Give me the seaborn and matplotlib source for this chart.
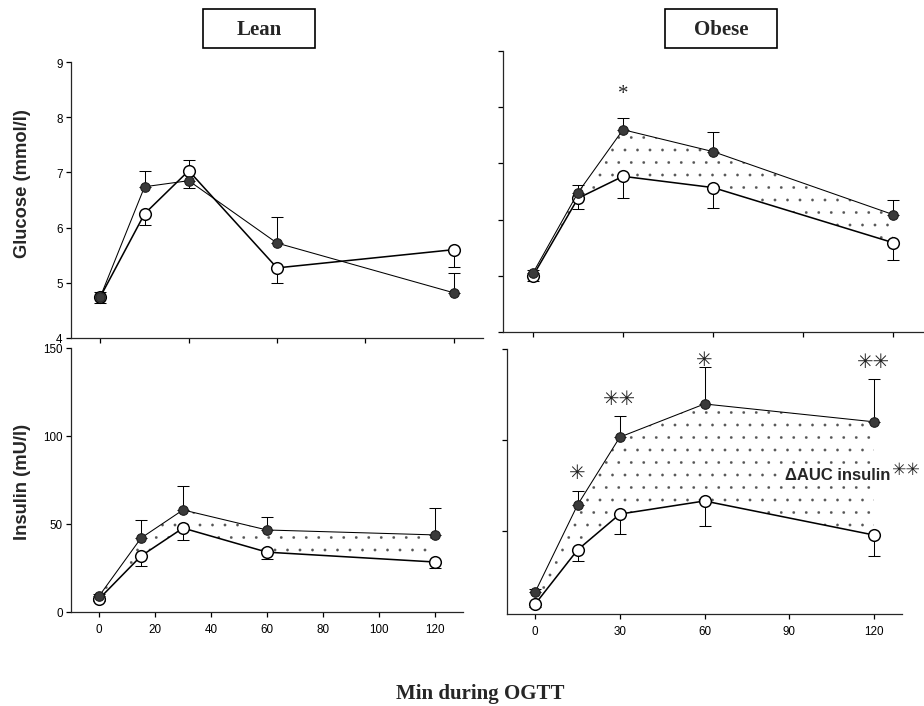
import matplotlib
matplotlib.use('Agg')
import matplotlib.pyplot as plt
from matplotlib.patches import Rectangle
import seaborn as sns

# sampling times of the OGTT (min)
minutes = [0, 15, 30, 60, 120]

# glucose (mmol/l) - lean subjects
lean_glu_filled = [4.75, 6.74, 6.85, 5.72, 4.82]
lean_glu_filled_sem = [0.09, 0.28, 0.13, 0.47, 0.36]
lean_glu_filled_dir = [1, 1, -1, 1, 1]
lean_glu_open = [4.75, 6.25, 7.03, 5.27, 5.60]
lean_glu_open_sem = [0.11, 0.21, 0.20, 0.28, 0.31]
lean_glu_open_dir = [-1, -1, 1, -1, -1]

# glucose (mmol/l) - obese subjects
obese_glu_filled = [5.05, 6.48, 7.60, 7.21, 6.09]
obese_glu_filled_sem = [0.05, 0.14, 0.20, 0.34, 0.25]
obese_glu_filled_dir = [1, 1, 1, 1, 1]
obese_glu_open = [5.00, 6.38, 6.77, 6.57, 5.59]
obese_glu_open_sem = [0.10, 0.20, 0.38, 0.36, 0.30]
obese_glu_open_dir = [-1, -1, -1, -1, -1]

# insulin (mU/l) - lean subjects
lean_ins_filled = [9.0, 42.0, 58.0, 46.6, 43.8]
lean_ins_filled_sem = [1.0, 10.0, 13.6, 7.4, 15.2]
lean_ins_filled_dir = [1, 1, 1, 1, 1]
lean_ins_open = [7.4, 31.8, 47.7, 34.0, 28.4]
lean_ins_open_sem = [1.0, 5.8, 6.7, 4.0, 3.4]
lean_ins_open_dir = [-1, -1, -1, -1, -1]

# insulin (mU/l) - obese subjects
obese_ins_filled = [16.5, 64.3, 101.6, 119.8, 110.0]
obese_ins_filled_sem = [1.5, 7.7, 11.6, 20.2, 23.5]
obese_ins_filled_dir = [1, 1, 1, 1, 1]
obese_ins_open = [9.9, 39.6, 59.3, 66.5, 47.8]
obese_ins_open_sem = [1.5, 6.1, 10.9, 13.8, 11.5]
obese_ins_open_dir = [-1, -1, -1, -1, -1]

# significance marks
glu_star_min = [30]
glu_star_text = ['*']
glu_star_y = [8.25]
ins_star_min = [15, 30, 60, 120]
ins_star_text = ['\u2733', '\u2733\u2733', '\u2733', '\u2733\u2733']
ins_star_y = [82.0, 123.0, 144.5, 143.4]

sns.set_style('ticks')
plt.rcParams['font.family'] = ['Liberation Sans', 'DejaVu Sans']
plt.rcParams['axes.linewidth'] = 0.6
plt.rcParams['hatch.linewidth'] = 0.1
for k in ['xtick', 'ytick']:
    plt.rcParams[k + '.major.width'] = 0.6
    plt.rcParams[k + '.major.size'] = 2.6
    plt.rcParams[k + '.labelsize'] = 5.6
    plt.rcParams[k + '.color'] = 'black'
plt.rcParams['xtick.major.pad'] = 2.8
plt.rcParams['ytick.major.pad'] = 1.4

W, H = 924, 707
fig = plt.figure(figsize=(W / 150, H / 150), dpi=150)


def px_axes(x0, y0, x1, y1):
    return fig.add_axes([x0 / W, 1 - y1 / H, (x1 - x0) / W, (y1 - y0) / H])


def draw_panel(ax, filled, f_sem, f_dir, opened, o_sem, o_dir, shade=True):
    if shade:
        ax.fill_between(minutes, opened, filled, facecolor='none',
                        edgecolor='#555555', hatch='..', linewidth=0,
                        zorder=1)
    for vals, sem, dirs in [(opened, o_sem, o_dir), (filled, f_sem, f_dir)]:
        lower = [s if d < 0 else 0 for s, d in zip(sem, dirs)]
        upper = [s if d > 0 else 0 for s, d in zip(sem, dirs)]
        ax.errorbar(minutes, vals, yerr=[lower, upper], fmt='none',
                    ecolor='black', elinewidth=0.5, capsize=2.9,
                    capthick=0.5, zorder=1.5)
    sns.lineplot(x=minutes, y=opened, ax=ax, color='black', linewidth=0.75,
                 marker='o', markersize=5.6, markerfacecolor='white',
                 markeredgecolor='black', markeredgewidth=0.7, zorder=3)
    sns.lineplot(x=minutes, y=filled, ax=ax, color='black', linewidth=0.5,
                 marker='o', markersize=4.6, markerfacecolor='#3a3a3a',
                 markeredgecolor='#1a1a1a', markeredgewidth=0.5, zorder=4)
    ax.set_xlim(-10, 130)
    ax.set_xlabel('')
    ax.set_ylabel('')
    sns.despine(ax=ax)


# Lean glucose
ax_tl = px_axes(71, 63, 483, 339)
draw_panel(ax_tl, lean_glu_filled, lean_glu_filled_sem, lean_glu_filled_dir,
           lean_glu_open, lean_glu_open_sem, lean_glu_open_dir, shade=False)
ax_tl.set_ylim(4, 9)
ax_tl.set_yticks([4, 5, 6, 7, 8, 9])
ax_tl.set_xticks([0, 30, 60, 90, 120])
ax_tl.set_xticklabels([])

# Obese glucose
ax_tr = px_axes(503, 52, 923, 333)
draw_panel(ax_tr, obese_glu_filled, obese_glu_filled_sem, obese_glu_filled_dir,
           obese_glu_open, obese_glu_open_sem, obese_glu_open_dir)
ax_tr.set_ylim(4, 9)
ax_tr.set_yticks([4, 5, 6, 7, 8, 9])
ax_tr.set_yticklabels([])
ax_tr.set_xticks([0, 30, 60, 90, 120])
ax_tr.set_xticklabels([])
for t, s, y in zip(glu_star_min, glu_star_text, glu_star_y):
    ax_tr.text(t, y, s, ha='center', va='center', fontsize=10,
               family='Liberation Serif')

# Lean insulin
ax_bl = px_axes(71, 349, 463, 613)
draw_panel(ax_bl, lean_ins_filled, lean_ins_filled_sem, lean_ins_filled_dir,
           lean_ins_open, lean_ins_open_sem, lean_ins_open_dir)
ax_bl.set_ylim(0, 150)
ax_bl.set_yticks([0, 50, 100, 150])
ax_bl.set_xticks([0, 20, 40, 60, 80, 100, 120])

# Obese insulin
ax_br = px_axes(507, 350, 902, 615)
draw_panel(ax_br, obese_ins_filled, obese_ins_filled_sem, obese_ins_filled_dir,
           obese_ins_open, obese_ins_open_sem, obese_ins_open_dir)
ax_br.set_ylim(4.4, 150)
ax_br.set_yticks([50, 100, 150])
ax_br.set_yticklabels([])
ax_br.set_xticks([0, 30, 60, 90, 120])
for t, s, y in zip(ins_star_min, ins_star_text, ins_star_y):
    ax_br.text(t, y, s, ha='center', va='center', fontsize=9.5,
               family=['DejaVu Sans'], color='#222222', zorder=5)
ax_br.text(125.8, 80.8, '\u0394AUC insulin', ha='right', va='center',
           fontsize=8, fontweight='bold', zorder=5,
           bbox=dict(facecolor='white', edgecolor='none', pad=1.5))
ax_br.text(126.0, 84.0, '\u2733\u2733', ha='left', va='center', fontsize=8.3,
           family=['DejaVu Sans'], color='#222222')

# axis titles and group boxes
fig.text(23 / W, 1 - 184 / H, 'Glucose (mmol/l)', rotation=90, ha='center',
         va='center', fontsize=8.8, fontweight='bold')
fig.text(23 / W, 1 - 482 / H, 'Insulin (mU/l)', rotation=90, ha='center',
         va='center', fontsize=8.8, fontweight='bold')
for label, x0 in [('Lean', 203), ('Obese', 665)]:
    fig.patches.append(Rectangle((x0 / W, 1 - 49 / H), 112 / W, 39 / H,
                                 transform=fig.transFigure, fill=False,
                                 edgecolor='black', linewidth=0.8))
    fig.text((x0 + 56) / W, 1 - 30 / H, label, ha='center', va='center',
             fontsize=10, fontweight='bold', family='Liberation Serif')
fig.text(480 / W, 1 - 694 / H, 'Min during OGTT', ha='center', va='center',
         fontsize=10, fontweight='bold', family='Liberation Serif')

fig.savefig('out.png', dpi=150)
